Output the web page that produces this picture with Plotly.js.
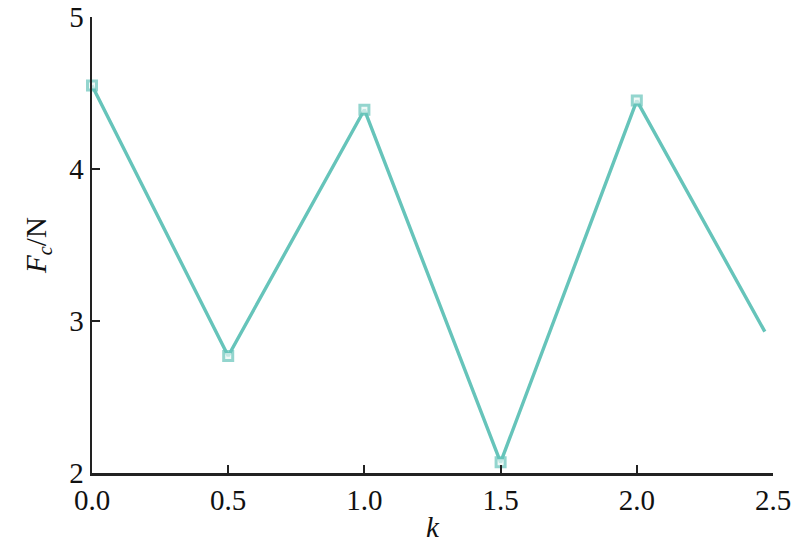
<!DOCTYPE html>
<html>
<head>
<meta charset="utf-8">
<script src="https://cdn.plot.ly/plotly-3.0.1.min.js"></script>
<style>html,body{margin:0;padding:0;background:#fff;}#chart{width:795px;height:543px;}</style>
</head>
<body>
<div id="chart"></div>
<script>
var kValues = [0, 0.5, 1.0, 1.5, 2.0, 2.47];
var fcValues = [4.55, 2.77, 4.39, 2.07, 4.45, 2.93];
var markerShown = [1, 1, 1, 1, 1, 0];
var xTickVals = [0, 0.5, 1.0, 1.5, 2.0, 2.5];
var xTickText = ['0.0', '0.5', '1.0', '1.5', '2.0', '2.5'];
var yTickVals = [2, 3, 4, 5];
var yTickText = ['2', '3', '4', '5'];

var color = '#66C4BA';
var trace = {
  x: kValues,
  y: fcValues,
  mode: 'lines+markers',
  line: {color: color, width: 3.4},
  marker: {
    symbol: 'square',
    size: markerShown.map(function(v){return v ? 9 : 0;}),
    color: '#EAF7F5',
    line: {color: color, width: 3}
  },
  cliponaxis: false,
  showlegend: false,
  hoverinfo: 'skip'
};

var font = {family: "'Liberation Serif', 'Times New Roman', Times, serif", size: 29, color: '#111'};

var layout = {
  width: 795, height: 543,
  margin: {l: 92, r: 22, t: 17, b: 70},
  paper_bgcolor: '#fff', plot_bgcolor: '#fff',
  font: font,
  xaxis: {
    range: [0, 2.5],
    tickvals: xTickVals, ticktext: xTickText,
    ticks: 'inside', ticklen: 8, tickwidth: 2, tickcolor: '#222',
    showline: true, linecolor: '#222', linewidth: 2.5,
    showgrid: false, zeroline: false,
    tickfont: font,
    title: {text: '<i>k</i>', font: font, standoff: 2}
  },
  yaxis: {
    range: [2, 5],
    tickvals: yTickVals, ticktext: yTickText,
    ticks: 'inside', ticklen: 8, tickwidth: 2, tickcolor: '#222',
    showline: true, linecolor: '#222', linewidth: 2.5,
    showgrid: false, zeroline: false,
    tickfont: font,
    title: {text: '<i>F</i><sub><i>c</i></sub>/N', font: font, standoff: 14}
  }
};

Plotly.newPlot('chart', [trace], layout, {displayModeBar: false, staticPlot: true});
</script>
</body>
</html>
